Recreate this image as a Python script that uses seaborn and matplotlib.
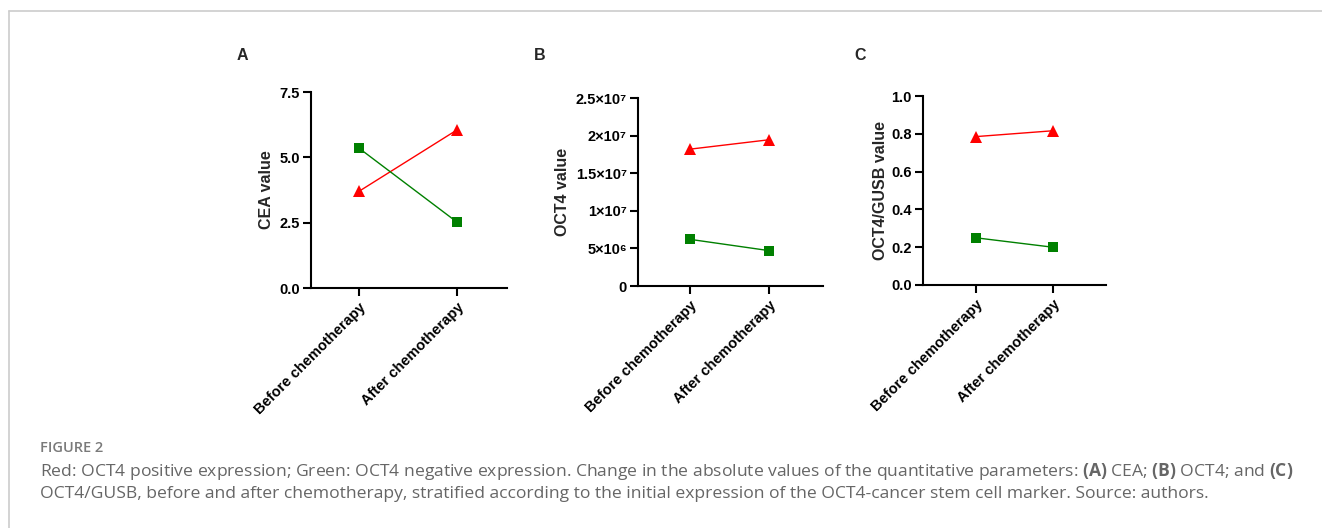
"""Before/after chemotherapy change in CEA, OCT4 and OCT4/GUSB, by OCT4 status."""

import matplotlib.pyplot as plt
import pandas as pd
import seaborn as sns
from matplotlib.lines import Line2D

timepoints = ["Before chemotherapy", "After chemotherapy"]
groups = ["OCT4 positive", "OCT4 negative"]

cea_pos = [3.70, 6.05]
cea_neg = [5.35, 2.52]
oct4_pos = [1.82e7, 1.945e7]
oct4_neg = [6.2e6, 4.7e6]
ratio_pos = [0.785, 0.816]
ratio_neg = [0.25, 0.20]

cea_ticks = [0, 2.5, 5.0, 7.5]
cea_ticklabels = ["0.0", "2.5", "5.0", "7.5"]
oct4_ticks = [0, 5e6, 1e7, 1.5e7, 2e7, 2.5e7]
oct4_ticklabels = ["0", "5×10⁶", "1×10⁷", "1.5×10⁷", "2×10⁷", "2.5×10⁷"]
ratio_ticks = [0, 0.2, 0.4, 0.6, 0.8, 1.0]
ratio_ticklabels = ["0.0", "0.2", "0.4", "0.6", "0.8", "1.0"]

RED = "#ff0000"
GREEN = "#008000"
palette = {groups[0]: RED, groups[1]: GREEN}
markers = {groups[0]: "^", groups[1]: "s"}


def _long(pos, neg):
    return pd.DataFrame(
        {
            "time": timepoints * 2,
            "group": [groups[0]] * 2 + [groups[1]] * 2,
            "value": list(pos) + list(neg),
        }
    )


sns.set_style("ticks")
plt.rcParams["font.family"] = ["Liberation Sans", "DejaVu Sans"]
plt.rcParams["mathtext.fontset"] = "custom"
plt.rcParams["mathtext.rm"] = "Open Sans"
plt.rcParams["mathtext.bf"] = "Open Sans:bold"

W, H = 1322, 528
fig = plt.figure(figsize=(W / 100, H / 100), dpi=100)

# (left, bottom, right, top) in pixels from top-left
panels = [
    dict(box=(311, 288, 507, 92), pos=cea_pos, neg=cea_neg, ylim=7.5,
         ticks=cea_ticks, labels=cea_ticklabels, ylabel="CEA value",
         xlim=(-0.49, 1.51), letter="A", letter_x=242, label_x=-0.19),
    dict(box=(638, 286, 823, 98), pos=oct4_pos, neg=oct4_neg, ylim=2.5e7,
         ticks=oct4_ticks, labels=oct4_ticklabels, ylabel="OCT4 value",
         xlim=(-0.66, 1.68), letter="B", letter_x=540, label_x=-0.37),
    dict(box=(923, 285, 1106, 96), pos=ratio_pos, neg=ratio_neg, ylim=1.0,
         ticks=ratio_ticks, labels=ratio_ticklabels, ylabel="OCT4/GUSB value",
         xlim=(-0.68, 1.69), letter="C", letter_x=860, label_x=-0.19),
]

for p in panels:
    l, b, r, t = p["box"]
    ax = fig.add_axes([l / W, 1 - b / H, (r - l) / W, (b - t) / H])
    df = _long(p["pos"], p["neg"])
    for g in groups:
        sns.lineplot(
            data=df[df["group"] == g], x="time", y="value",
            color=palette[g], marker=markers[g],
            markersize=8 if g == groups[0] else 7,
            markeredgewidth=0, linewidth=1, ax=ax,
        )
    ax.set_xlim(*p["xlim"])
    ax.set_ylim(0, p["ylim"])
    ax.set_yticks(p["ticks"])
    ax.set_yticklabels(p["labels"])
    ax.set_xticks(range(len(timepoints)))
    ax.set_xticklabels(timepoints, rotation=45, ha="right", rotation_mode="anchor")
    for lab in ax.get_xticklabels() + ax.get_yticklabels():
        lab.set_fontweight("bold")
        lab.set_fontsize(10.5)
    ax.set_xlabel("")
    ax.set_ylabel(p["ylabel"], fontsize=11.5, fontweight="bold")
    ax.yaxis.set_label_coords(p["label_x"], 0.5)
    sns.despine(ax=ax)
    for side in ("left", "bottom"):
        ax.spines[side].set_linewidth(1.5)
        ax.spines[side].set_color("black")
    ax.tick_params(axis="both", width=1.5, length=6, color="black", labelcolor="black")
    ax.tick_params(axis="y", pad=2)
    ax.tick_params(axis="x", pad=3)
    fig.text(p["letter_x"] / W, 1 - 55 / H, p["letter"], fontsize=11.5,
             fontweight="bold", ha="center", va="center")

# frame lines of the figure box
fig.add_artist(Line2D([9 / W, 1], [1 - 11 / H, 1 - 11 / H], color="#cccccc", lw=1.2))
fig.add_artist(Line2D([9 / W, 9 / W], [0, 1 - 11 / H], color="#cccccc", lw=1.2))

cap = dict(family="Open Sans", color="#666666", va="baseline", ha="left")
fig.text(40 / W, 1 - 452 / H, "FIGURE 2", fontsize=10.5, color="#7a7a7a",
         fontweight="semibold", family="Open Sans", va="baseline", ha="left")
fig.text(40 / W, 1 - 476 / H,
         "Red: OCT4 positive expression; Green: OCT4 negative expression. "
         "Change in the absolute values of the quantitative parameters: "
         r"$\mathbf{(A)}$ CEA; $\mathbf{(B)}$ OCT4; and $\mathbf{(C)}$",
         fontsize=12.6, **cap)
fig.text(40 / W, 1 - 498 / H,
         "OCT4/GUSB, before and after chemotherapy, stratified according to the "
         "initial expression of the OCT4-cancer stem cell marker. Source: authors.",
         fontsize=12.6, **cap)

fig.savefig("out.png", dpi=100)
plt.close(fig)
